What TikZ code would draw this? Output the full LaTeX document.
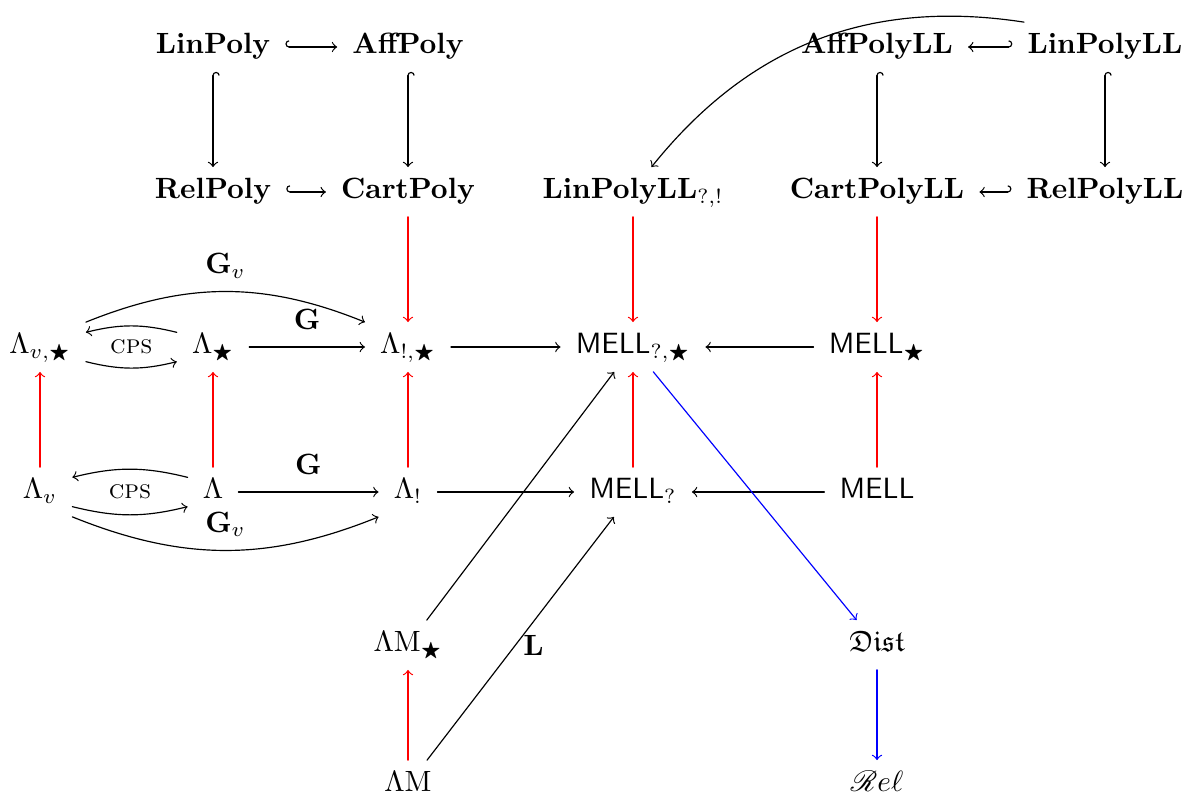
\documentclass[tikz,border=0pt]{standalone}
\usepackage{amssymb}
\usepackage{mathrsfs}
\usetikzlibrary{arrows.meta}
\begin{document}
\begin{tikzpicture}[x=1.2cm,y=1.2cm, >=to, line cap=round,
	every node/.style={text height=1.7ex, text depth=.6ex, inner xsep=5pt},
	lbl/.style={inner xsep=.3333em},
	hookR/.style={{Hooks[right]}->},
	hookL/.style={{Hooks[left]}->},
	emb/.style={red,->},
	sem/.style={blue,->}]
	\useasboundingbox (0,0) rectangle (11.88,8.05);
	% polynomial models
	\node (linp) at (2.13,7.58) {\textbf{LinPoly}};
	\node (affp) at (4.08,7.58) {\textbf{AffPoly}};
	\node (affll) at (8.77,7.58) {\textbf{AffPolyLL}};
	\node (linll) at (11.05,7.58) {\textbf{LinPolyLL}};
	\node (relp) at (2.13,6.13) {\textbf{RelPoly}};
	\node (cartp) at (4.08,6.13) {\textbf{CartPoly}};
	\node (linllqb) at (6.33,6.13) {\textbf{LinPolyLL}$_{?,!}$};
	\node (cartll) at (8.77,6.13) {\textbf{CartPolyLL}};
	\node (relll) at (11.05,6.13) {\textbf{RelPolyLL}};
	% calculi
	\node (lvs) at (0.40,4.58) {$\Lambda_{v,\bigstar}$};
	\node (ls) at (2.13,4.58) {$\Lambda_{\bigstar}$};
	\node (lbs) at (4.08,4.58) {$\Lambda_{!,\bigstar}$};
	\node (mqs) at (6.33,4.58) {$\mathsf{MELL}_{?,\bigstar}$};
	\node (ms) at (8.77,4.58) {$\mathsf{MELL}_{\bigstar}$};
	\node (lv) at (0.40,3.13) {$\Lambda_v$};
	\node (lam) at (2.13,3.13) {$\Lambda$};
	\node (lb) at (4.08,3.13) {$\Lambda_{!}$};
	\node (mq) at (6.33,3.13) {$\mathsf{MELL}_{?}$};
	\node (mell) at (8.77,3.13) {$\mathsf{MELL}$};
	\node (lms) at (4.08,1.60) {$\Lambda\mathrm{M}_{\bigstar}$};
	\node (dist) at (8.77,1.60) {$\mathfrak{Dist}$};
	\node (lm) at (4.08,0.20) {$\Lambda\mathrm{M}$};
	\node (rel) at (8.77,0.20) {$\mathscr{R}e\ell$};
	% inclusions
	\draw[hookR] (linp) -- (affp);
	\draw[hookR] (linp) -- (relp);
	\draw[hookR] (affp) -- (cartp);
	\draw[hookR] (relp) -- (cartp);
	\draw[hookL] (linll) -- (affll);
	\draw[hookR] (linll) -- (relll);
	\draw[hookR] (affll) -- (cartll);
	\draw[hookL] (relll) -- (cartll);
	\draw[->] ([xshift=4pt]linll.north west) to[bend right=30] (linllqb);
	% red arrows
	\draw[emb] (cartp) -- (lbs);
	\draw[emb] (linllqb) -- (mqs);
	\draw[emb] (cartll) -- (ms);
	\draw[emb] (lv) -- (lvs);
	\draw[emb] (lam) -- (ls);
	\draw[emb] (lb) -- (lbs);
	\draw[emb] (mq) -- (mqs);
	\draw[emb] (mell) -- (ms);
	\draw[emb] (lm) -- (lms);
	% translations
	\draw[->] ([yshift=5pt]ls.west) to[bend right=14] ([yshift=5pt]lvs.east);
	\draw[->] ([yshift=-5pt]lvs.east) to[bend right=14] ([yshift=-5pt]ls.west);
	\path (lvs) -- node[lbl] (cps1) {\small\textsc{cps}} (ls);
	\draw[->] ([yshift=5pt]lam.west) to[bend right=14] ([yshift=5pt]lv.east);
	\draw[->] ([yshift=-5pt]lv.east) to[bend right=14] ([yshift=-5pt]lam.west);
	\path (lv) -- node[lbl] (cps2) {\small\textsc{cps}} (lam);
	\draw[->] (ls) -- node[lbl,above] (g1) {$\mathbf{G}$} (lbs);
	\draw[->] (lam) -- node[lbl,above] (g2) {$\mathbf{G}$} (lb);
	\draw[->] (lvs.north east) to[bend left=22] node[lbl,above] (gv1) {$\mathbf{G}_v$} (lbs.north west);
	\draw[->] (lv.south east) to[bend right=22] node[lbl,above] (gv2) {$\mathbf{G}_v$} (lb.south west);
	\draw[->] (lbs) -- (mqs);
	\draw[->] (ms) -- (mqs);
	\draw[->] (lb) -- (mq);
	\draw[->] (mell) -- (mq);
	\draw[->] (lms) -- (mqs);
	\draw[->] (lm) -- node[lbl,right,pos=0.46] (lab) {$\mathbf{L}$} (mq);
	% semantics
	\draw[sem] (mqs) -- (dist);
	\draw[sem] (dist) -- (rel);
\end{tikzpicture}
\end{document}
